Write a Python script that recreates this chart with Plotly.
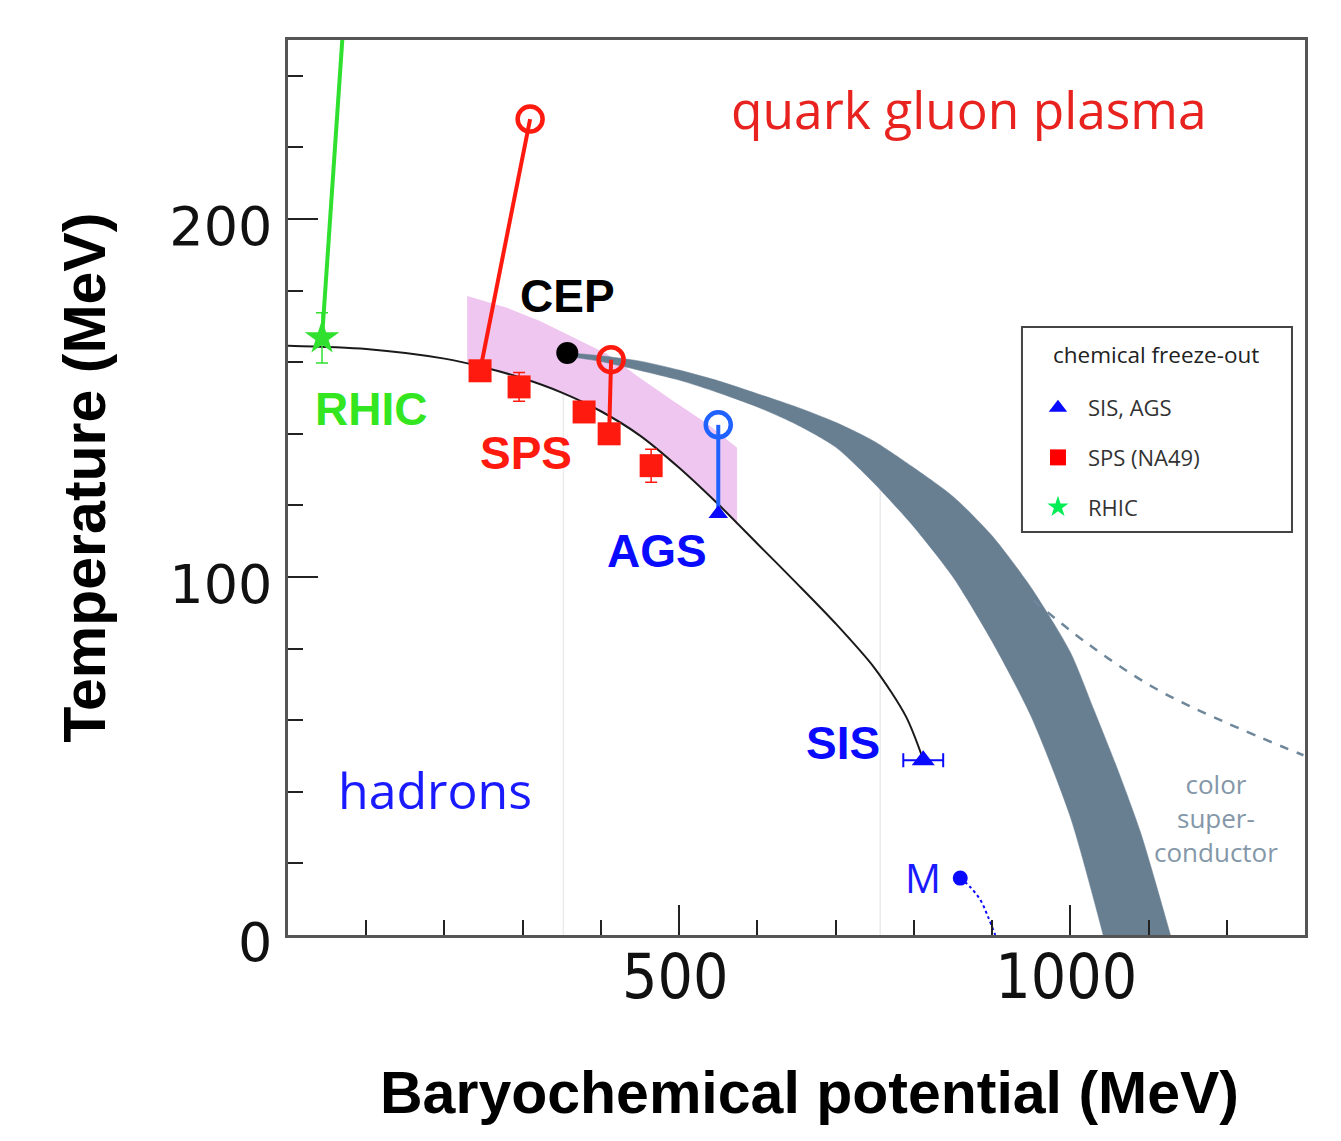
import plotly.graph_objects as go

# ---------------- data (MeV) ----------------
# chemical freeze-out curve (black line)
curve_mu = [0, 100, 200, 250, 300, 350, 400, 450, 500, 550, 600, 650, 700, 750, 790, 812]
curve_T = [164.6, 163.7, 161.0, 158.6, 155.5, 151.5, 146.3, 139.5, 130.5, 120.3, 109.3, 98.3, 87.0, 74.5, 61.0, 49.0]

# SPS (NA49) freeze-out points
sps_mu = [245.5, 295.4, 378.5, 410.5, 464.2]
sps_T = [157.6, 153.1, 146.1, 140.0, 131.1]
sps_err = [0, 4.0, 0, 0, 4.6]

# SIS, AGS points
ags_mu = [550]
ags_T = [117.7]
sis_mu = [812]
sis_T = [48.8]
sis_xerr = [25.5]

# RHIC
rhic_mu = [43.5]
rhic_T = [166.8]
rhic_err = [7.0]
rhic_path_mu = [43.5, 72.5]
rhic_path_T = [166.8, 260.0]

# initial-state trajectories (open circles joined to freeze-out points)
sps_hi_mu = [245.5, 309.5]
sps_hi_T = [157.6, 227.9]
sps_lo_mu = [410.5, 413.0]
sps_lo_T = [140.0, 160.7]
ags_path_mu = [550, 550]
ags_path_T = [117.7, 142.5]
open_red_mu = [309.5, 413.0]
open_red_T = [227.9, 160.7]
open_blue_mu = [550]
open_blue_T = [142.5]

# critical end point
cep_mu = [357]
cep_T = [162.6]

# nuclear matter point and dotted line
m_mu = [859.3]
m_T = [15.9]
m_path_mu = [859.3, 872, 885, 895, 904]
m_path_T = [15.9, 13.4, 9.8, 5.0, 0.0]

# phase transition band (upper and lower edges)
band_up_mu = [361, 400, 450, 500, 550, 600, 650, 700, 750, 800, 850, 900, 950, 1000, 1030, 1060, 1090, 1128]
band_up_T = [162.6, 161.8, 160.3, 157.8, 154.8, 151.2, 147.5, 143.2, 137.8, 130.5, 122.5, 111.5, 97.0, 79.0, 63.0, 46.5, 28.5, 0]
band_lo_mu = [361, 400, 450, 500, 550, 600, 650, 700, 750, 800, 850, 900, 950, 1000, 1042]
band_lo_T = [161.5, 160.2, 157.7, 155.0, 151.5, 147.5, 142.6, 136.3, 126.0, 114.0, 100.0, 82.0, 61.0, 33.0, 0]

# pink freeze-out region
pink_top_mu = [229, 280, 322, 365, 408, 450, 492, 536, 574]
pink_top_T = [178.5, 175.2, 171.5, 166.8, 162.3, 155.6, 149.2, 142.8, 136.1]
pink_bot_mu = [574, 550, 500, 450, 400, 350, 300, 250, 229]
pink_bot_T = [114.5, 120.3, 130.5, 139.5, 146.3, 151.5, 155.5, 158.6, 159.6]

# colour superconductor boundary (dashed)
csc_mu = [953, 1022, 1106, 1192, 1298]
csc_T = [93.4, 81.4, 69.2, 60.0, 50.2]

# faint vertical guide lines
guide_mu = [352, 757]
guide_top = [162, 137]

# axis ticks
x_major = [500, 1000]
x_labels = ["500", "1000"]
y_major = [0, 100, 200]
y_labels = ["0", "100", "200"]

# ---------------- colours ----------------
RED = "#ff1a0f"
BLUE = "#0a0aff"
LBLUE = "#1f62ff"
GREEN = "#2fe02f"
GRAY = "#687f92"
PINK = "#efc6ef"

fig = go.Figure()

# guide lines
for gx, gt in zip(guide_mu, guide_top):
    fig.add_trace(go.Scatter(x=[gx, gx], y=[0, gt], mode="lines",
                             line=dict(color="#ebebeb", width=1.5),
                             showlegend=False, hoverinfo="skip"))

# pink region
fig.add_trace(go.Scatter(x=pink_top_mu + pink_bot_mu, y=pink_top_T + pink_bot_T,
                         mode="lines", fill="toself", fillcolor=PINK,
                         line=dict(width=0),
                         showlegend=False, hoverinfo="skip"))

# phase boundary band: lower edge, then upper edge filled to it
fig.add_trace(go.Scatter(x=band_lo_mu, y=band_lo_T, mode="lines",
                         line=dict(width=0.5, color=GRAY, shape="spline", smoothing=0.7),
                         showlegend=False, hoverinfo="skip"))
fig.add_trace(go.Scatter(x=band_up_mu, y=band_up_T, mode="lines",
                         fill="tonexty", fillcolor=GRAY,
                         line=dict(width=0.5, color=GRAY, shape="spline", smoothing=0.7),
                         showlegend=False, hoverinfo="skip"))

# dashed colour-superconductor line
fig.add_trace(go.Scatter(x=csc_mu, y=csc_T, mode="lines",
                         line=dict(color="#6e879a", width=2.5, dash="dash", shape="spline"),
                         showlegend=False, hoverinfo="skip"))

# freeze-out curve
fig.add_trace(go.Scatter(x=curve_mu, y=curve_T, mode="lines",
                         line=dict(color="#1a1a1a", width=2, shape="spline", smoothing=0.8),
                         showlegend=False, hoverinfo="skip"))

# trajectories
fig.add_trace(go.Scatter(x=rhic_path_mu, y=rhic_path_T, mode="lines",
                         line=dict(color=GREEN, width=4), showlegend=False))
fig.add_trace(go.Scatter(x=sps_hi_mu, y=sps_hi_T, mode="lines",
                         line=dict(color=RED, width=4), showlegend=False))
fig.add_trace(go.Scatter(x=sps_lo_mu, y=sps_lo_T, mode="lines",
                         line=dict(color=RED, width=4), showlegend=False))
fig.add_trace(go.Scatter(x=ags_path_mu, y=ags_path_T, mode="lines",
                         line=dict(color=LBLUE, width=4), showlegend=False))

# M dotted line and dot
fig.add_trace(go.Scatter(x=m_path_mu, y=m_path_T, mode="lines",
                         line=dict(color=BLUE, width=2, dash="dot", shape="spline"),
                         showlegend=False))
fig.add_trace(go.Scatter(x=m_mu, y=m_T, mode="markers",
                         marker=dict(color=BLUE, size=15), showlegend=False))

# open circles
fig.add_trace(go.Scatter(x=open_red_mu, y=open_red_T, mode="markers",
                         marker=dict(symbol="circle-open", color=RED, size=25, line=dict(width=4.5)),
                         showlegend=False))
fig.add_trace(go.Scatter(x=open_blue_mu, y=open_blue_T, mode="markers",
                         marker=dict(symbol="circle-open", color=LBLUE, size=25, line=dict(width=4.5)),
                         showlegend=False))

# CEP
fig.add_trace(go.Scatter(x=cep_mu, y=cep_T, mode="markers",
                         marker=dict(color="#000000", size=22), showlegend=False))

# freeze-out data
fig.add_trace(go.Scatter(x=sps_mu, y=sps_T, mode="markers",
                         marker=dict(symbol="square", color=RED, size=23),
                         error_y=dict(type="data", array=sps_err, color=RED, thickness=1.5, width=6),
                         showlegend=False))
fig.add_trace(go.Scatter(x=ags_mu, y=ags_T, mode="markers",
                         marker=dict(symbol="triangle-up", color=BLUE, size=17),
                         showlegend=False))
fig.add_trace(go.Scatter(x=sis_mu, y=sis_T, mode="markers",
                         marker=dict(symbol="triangle-up", color=BLUE, size=20),
                         error_x=dict(type="data", array=sis_xerr, color=BLUE, thickness=2, width=7),
                         showlegend=False))
fig.add_trace(go.Scatter(x=rhic_mu, y=rhic_T, mode="markers",
                         marker=dict(symbol="star", color=GREEN, size=26),
                         error_y=dict(type="data", array=rhic_err, color=GREEN, thickness=1.5, width=6),
                         showlegend=False))

# legend entries
fig.add_trace(go.Scatter(x=[None], y=[None], mode="markers", name="SIS, AGS", legendgroup="a",
                         marker=dict(symbol="triangle-up", color=BLUE, size=16)))
fig.add_trace(go.Scatter(x=[None], y=[None], mode="markers", name="SPS (NA49)", legendgroup="b",
                         marker=dict(symbol="square", color="#ff0000", size=16)))
fig.add_trace(go.Scatter(x=[None], y=[None], mode="markers", name="RHIC", legendgroup="c",
                         marker=dict(symbol="star", color="#00ee55", size=16)))

# ---------------- text labels ----------------
BOLD = "Liberation Sans, Arial, sans-serif"
HUM = "Open Sans, Noto Sans, sans-serif"
labels = [
    ("<b>CEP</b>", 357, 178.5, "#000000", 46, BOLD),
    ("<b>RHIC</b>", 106, 147.0, "#33e61f", 46, BOLD),
    ("<b>SPS</b>", 304, 134.7, "#ff1a0f", 46, BOLD),
    ("<b>AGS</b>", 472, 107.4, "#0a0aff", 46, BOLD),
    ("<b>SIS</b>", 710, 53.6, "#0a0aff", 46, BOLD),
    ("quark gluon plasma", 870, 230.8, "#e8231f", 51.5, HUM),
    ("hadrons", 188, 40.5, "#1a1aff", 50, HUM),
    ("M", 812, 16.2, "#1a1aff", 40, HUM),
    ("color<br>super-<br>conductor", 1186, 32.6, "#8497a8", 26, HUM),
]
for txt, lx, ly, col, sz, fam in labels:
    fig.add_annotation(x=lx, y=ly, xref="x", yref="y", text=txt, showarrow=False,
                       xanchor="center", yanchor="middle",
                       font=dict(family=fam, size=sz, color=col), align="center")

# legend frame and title
fig.add_shape(type="rect", xref="paper", yref="paper", x0=0.7217, x1=0.9872, y0=0.4503, y1=0.6793,
              line=dict(color="#444444", width=2), fillcolor="white", layer="below")
fig.add_annotation(x=0.853, y=0.649, xref="paper", yref="paper", text="chemical freeze-out",
                   showarrow=False, xanchor="center", yanchor="middle",
                   font=dict(family=HUM, size=22.5, color="#222222"))

# axis titles
fig.add_annotation(x=-0.1996, y=0.511, xref="paper", yref="paper", text="<b>Temperature (MeV)</b>",
                   textangle=-90, showarrow=False, xanchor="center", yanchor="middle",
                   font=dict(family=BOLD, size=59, color="#000000"))
fig.add_annotation(x=0.513, y=-0.1765, xref="paper", yref="paper",
                   text="<b>Baryochemical potential (MeV)</b>", showarrow=False,
                   xanchor="center", yanchor="middle",
                   font=dict(family=BOLD, size=59, color="#000000"))

AX = "#555555"
fig.update_xaxes(range=[0, 1300], showgrid=False, zeroline=False,
                 showline=True, linecolor=AX, linewidth=2.5, mirror=True,
                 tickmode="array", tickvals=x_major, ticktext=x_labels,
                 ticks="inside", ticklen=30, tickwidth=2, tickcolor="#222",
                 minor=dict(dtick=100, ticks="inside", ticklen=15, tickwidth=2, tickcolor="#222"),
                 tickfont=dict(family="DejaVu Sans Condensed, DejaVu Sans", size=62, color="#111"),
                 ticklabelstandoff=-14, ticklabelshift=-4)
fig.update_yaxes(range=[0, 250], showgrid=False, zeroline=False,
                 showline=True, linecolor=AX, linewidth=2.5, mirror=True,
                 tickmode="array", tickvals=y_major, ticktext=y_labels,
                 ticks="inside", ticklen=30, tickwidth=2, tickcolor="#222",
                 minor=dict(dtick=20, ticks="inside", ticklen=15, tickwidth=2, tickcolor="#222"),
                 tickfont=dict(family="DejaVu Sans", size=54, color="#111"),
                 ticklabelstandoff=2, ticklabelshift=7)

fig.update_layout(
    width=1341, height=1141,
    margin=dict(l=280, r=44, t=32, b=214),
    paper_bgcolor="white", plot_bgcolor="white",
    showlegend=True,
    legend=dict(x=0.7276, y=0.6123, xanchor="left", yanchor="top",
                borderwidth=0, bgcolor="rgba(0,0,0,0)",
                font=dict(family=HUM, size=22, color="#333"),
                tracegroupgap=18, itemwidth=50),
)

fig.write_html("out.html")
